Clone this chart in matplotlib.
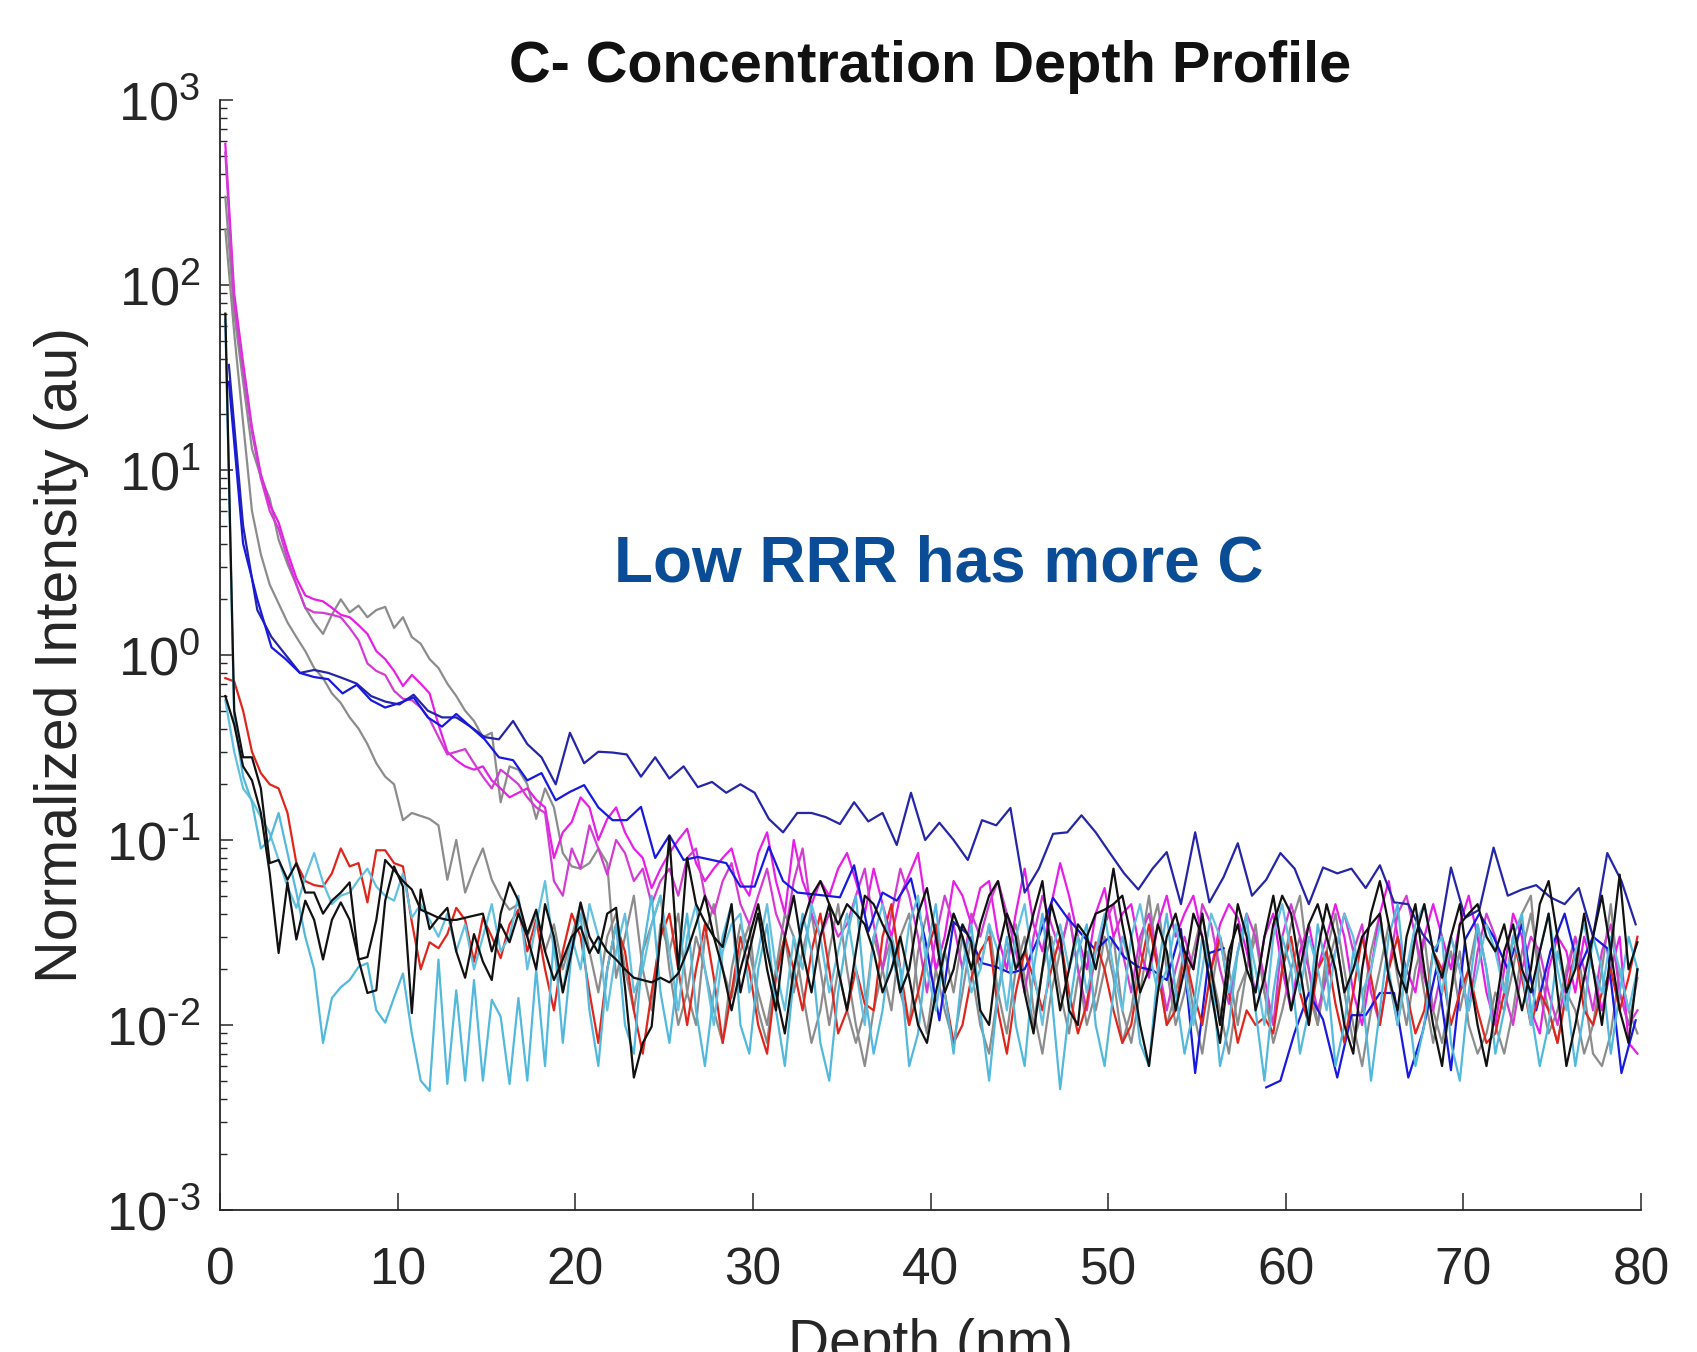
import numpy as np
import matplotlib

matplotlib.use("Agg")
import matplotlib.pyplot as plt
from matplotlib.ticker import FixedLocator, FuncFormatter, LogLocator, NullFormatter

plt.rcParams["font.family"] = ["Liberation Sans", "DejaVu Sans"]
plt.rcParams["mathtext.fontset"] = "custom"
plt.rcParams["mathtext.rm"] = "Liberation Sans"
plt.rcParams["mathtext.it"] = "Liberation Sans:italic"
plt.rcParams["mathtext.bf"] = "Liberation Sans:bold"
plt.rcParams["mathtext.default"] = "rm"
plt.rcParams["axes.unicode_minus"] = False

# fine series: first point at 0.3 nm, one point every 0.5 nm (10 values = 5 nm per row)
FINE_START, FINE_STEP = 0.3, 0.5
# coarse series (the two blue profiles): first point at 0.5 nm, every 0.8 nm
COARSE_START, COARSE_STEP = 0.5, 0.8

magenta_a = [
    580, 90, 38, 17, 9.5, 6.5, 5.2, 3.6, 2.6, 2.1,
    2.0, 1.95, 1.8, 1.65, 1.6, 1.45, 1.3, 1.05, 0.95, 0.82,
    0.68, 0.78, 0.7, 0.62, 0.42, 0.3, 0.27, 0.25, 0.24, 0.25,
    0.21, 0.19, 0.17, 0.18, 0.19, 0.165, 0.15, 0.08, 0.11, 0.125,
    0.17, 0.15, 0.1, 0.13, 0.15, 0.11, 0.09, 0.08, 0.055, 0.07,
    0.085, 0.1, 0.115, 0.075, 0.06, 0.07, 0.08, 0.09, 0.06, 0.05,
    0.085, 0.11, 0.06, 0.04, 0.1, 0.06, 0.045, 0.06, 0.05, 0.07,
    0.085, 0.06, 0.04, 0.07, 0.045, 0.03, 0.05, 0.065, 0.085, 0.04,
    0.02, 0.03, 0.06, 0.05, 0.035, 0.055, 0.06, 0.03, 0.02, 0.04,
    0.07, 0.035, 0.025, 0.045, 0.075, 0.05, 0.03, 0.02, 0.04, 0.055,
    0.03, 0.04, 0.045, 0.025, 0.018, 0.035, 0.05, 0.03, 0.04, 0.05,
    0.03, 0.02, 0.035, 0.045, 0.038, 0.025, 0.015, 0.03, 0.04, 0.02,
    0.012, 0.025, 0.035, 0.02, 0.03, 0.045, 0.03, 0.015, 0.01, 0.02,
    0.04, 0.06, 0.03, 0.02, 0.015, 0.03, 0.045, 0.03, 0.02, 0.035,
    0.05, 0.03, 0.015, 0.01, 0.02, 0.04, 0.03, 0.012, 0.009, 0.02,
    0.03, 0.025, 0.015, 0.03, 0.02, 0.012, 0.02, 0.03, 0.008, 0.007,
]
magenta_b = [
    520, 80, 35, 16, 9, 6, 4.8, 3.3, 2.4, 1.8,
    1.7, 1.69, 1.65, 1.6, 1.4, 1.2, 0.9, 0.82, 0.78, 0.64,
    0.58, 0.57, 0.52, 0.45, 0.36, 0.29, 0.3, 0.31, 0.26, 0.22,
    0.19, 0.24, 0.22, 0.2, 0.17, 0.15, 0.14, 0.06, 0.05, 0.09,
    0.07, 0.12, 0.09, 0.065, 0.1, 0.085, 0.06, 0.07, 0.045, 0.06,
    0.07, 0.05, 0.08, 0.09, 0.05, 0.04, 0.06, 0.075, 0.045, 0.035,
    0.05, 0.07, 0.04, 0.03, 0.06, 0.09, 0.04, 0.03, 0.04, 0.03,
    0.035, 0.05, 0.07, 0.035, 0.02, 0.04, 0.07, 0.05, 0.03, 0.015,
    0.03, 0.05, 0.035, 0.02, 0.04, 0.03, 0.045, 0.06, 0.04, 0.025,
    0.015, 0.03, 0.05, 0.035, 0.025, 0.04, 0.02, 0.012, 0.025, 0.035,
    0.045, 0.025, 0.015, 0.03, 0.04, 0.022, 0.012, 0.02, 0.03, 0.02,
    0.045, 0.035, 0.02, 0.013, 0.025, 0.04, 0.03, 0.018, 0.01, 0.03,
    0.045, 0.03, 0.02, 0.012, 0.018, 0.025, 0.04, 0.025, 0.035, 0.015,
    0.01, 0.02, 0.04, 0.05, 0.03, 0.018, 0.012, 0.02, 0.03, 0.02,
    0.012, 0.025, 0.04, 0.03, 0.015, 0.01, 0.02, 0.03, 0.025, 0.015,
    0.01, 0.018, 0.03, 0.02, 0.012, 0.025, 0.035, 0.015, 0.01, 0.012,
]
gray_a = [
    300, 70, 30, 13, 9.2, 7, 4.2, 3.1, 2.4, 1.8,
    1.5, 1.3, 1.65, 2.0, 1.7, 1.85, 1.6, 1.75, 1.82, 1.4,
    1.6, 1.25, 1.15, 0.95, 0.85, 0.7, 0.6, 0.5, 0.44, 0.36,
    0.38, 0.16, 0.25, 0.24, 0.2, 0.13, 0.19, 0.15, 0.085, 0.072,
    0.07, 0.075, 0.09, 0.075, 0.018, 0.03, 0.05, 0.02, 0.012, 0.035,
    0.025, 0.04, 0.015, 0.01, 0.03, 0.045, 0.02, 0.014, 0.025, 0.035,
    0.012, 0.008, 0.02, 0.03, 0.015, 0.025, 0.04, 0.02, 0.01, 0.02,
    0.012, 0.008, 0.012, 0.03, 0.02, 0.012, 0.03, 0.04, 0.015, 0.009,
    0.02, 0.025, 0.015, 0.03, 0.02, 0.01, 0.007, 0.015, 0.025, 0.035,
    0.018, 0.01, 0.02, 0.03, 0.015, 0.009, 0.018, 0.025, 0.012, 0.02,
    0.03, 0.012, 0.008, 0.015, 0.03, 0.045, 0.02, 0.01, 0.015, 0.025,
    0.04, 0.02, 0.012, 0.007, 0.015, 0.02, 0.03, 0.015, 0.01, 0.02,
    0.035, 0.05, 0.02, 0.01, 0.02, 0.03, 0.015, 0.008, 0.012, 0.025,
    0.04, 0.018, 0.01, 0.02, 0.03, 0.015, 0.008, 0.015, 0.025, 0.012,
    0.02, 0.035, 0.02, 0.01, 0.007, 0.012, 0.025, 0.04, 0.02, 0.012,
    0.008, 0.015, 0.012, 0.007, 0.01, 0.02, 0.045, 0.015, 0.01, 0.018,
]
gray_b = [
    200, 55, 18, 6, 3.5, 2.4, 1.9, 1.5, 1.25, 1.05,
    0.85, 0.75, 0.62, 0.55, 0.46, 0.4, 0.33, 0.26, 0.22, 0.2,
    0.128, 0.14, 0.135, 0.13, 0.12, 0.061, 0.1, 0.052, 0.07, 0.09,
    0.061, 0.049, 0.042, 0.045, 0.03, 0.04, 0.025, 0.035, 0.02, 0.03,
    0.045, 0.025, 0.015, 0.03, 0.04, 0.02, 0.012, 0.025, 0.035, 0.05,
    0.02, 0.01, 0.015, 0.03, 0.02, 0.012, 0.008, 0.02, 0.035, 0.025,
    0.015, 0.01, 0.02, 0.04, 0.03, 0.015, 0.008, 0.012, 0.025, 0.045,
    0.02, 0.01, 0.006, 0.012, 0.02, 0.03, 0.015, 0.01, 0.025, 0.04,
    0.02, 0.012, 0.008, 0.015, 0.03, 0.02, 0.035, 0.015, 0.009, 0.02,
    0.03, 0.012, 0.007, 0.015, 0.025, 0.04, 0.02, 0.01, 0.015, 0.03,
    0.018, 0.008, 0.012, 0.025, 0.05, 0.02, 0.01, 0.015, 0.025, 0.012,
    0.007, 0.015, 0.03, 0.02, 0.01, 0.02, 0.035, 0.015, 0.008, 0.012,
    0.02, 0.03, 0.015, 0.01, 0.025, 0.04, 0.02, 0.01, 0.006, 0.012,
    0.02, 0.035, 0.018, 0.01, 0.02, 0.03, 0.012, 0.008, 0.015, 0.025,
    0.01, 0.007, 0.009, 0.015, 0.012, 0.02, 0.04, 0.05, 0.015, 0.009,
    0.012, 0.02, 0.03, 0.015, 0.007, 0.006, 0.009, 0.02, 0.012, 0.009,
]
red_a = [
    0.75, 0.72, 0.5, 0.3, 0.23, 0.2, 0.19, 0.14, 0.075, 0.06,
    0.057, 0.056, 0.066, 0.09, 0.072, 0.075, 0.046, 0.088, 0.088, 0.075,
    0.072, 0.036, 0.02, 0.028, 0.026, 0.031, 0.043, 0.037, 0.022, 0.038,
    0.03, 0.023, 0.035, 0.042, 0.025, 0.037, 0.02, 0.012, 0.025, 0.04,
    0.03, 0.015, 0.008, 0.02, 0.035, 0.025, 0.012, 0.007, 0.015, 0.03,
    0.04, 0.02, 0.01, 0.02, 0.035, 0.018, 0.008, 0.015, 0.03, 0.02,
    0.01, 0.007, 0.018, 0.03, 0.02, 0.012, 0.025, 0.04, 0.02, 0.009,
    0.012, 0.02, 0.013, 0.012, 0.03, 0.045, 0.02, 0.01, 0.015, 0.025,
    0.035, 0.015, 0.008, 0.01, 0.018, 0.025, 0.03, 0.012, 0.007, 0.015,
    0.025, 0.018, 0.012, 0.02, 0.03, 0.015, 0.009, 0.013, 0.028, 0.02,
    0.012, 0.008, 0.01, 0.02, 0.035, 0.02, 0.01, 0.012, 0.025, 0.015,
    0.01, 0.02, 0.03, 0.015, 0.008, 0.012, 0.01, 0.011, 0.009, 0.02,
    0.03, 0.015, 0.01, 0.02, 0.025, 0.013, 0.008, 0.015, 0.03, 0.018,
    0.01, 0.02, 0.03, 0.015, 0.009, 0.012, 0.025, 0.02, 0.01, 0.015,
    0.02, 0.012, 0.008, 0.009, 0.015, 0.03, 0.018, 0.01, 0.015, 0.012,
    0.008, 0.015, 0.025, 0.012, 0.01, 0.015, 0.02, 0.012, 0.018, 0.03,
]
black_a = [
    70, 0.5, 0.28, 0.28, 0.19, 0.075, 0.078, 0.061, 0.075, 0.052,
    0.052, 0.04, 0.047, 0.052, 0.059, 0.0226, 0.0233, 0.037, 0.078, 0.069,
    0.06, 0.054, 0.042, 0.04, 0.038, 0.037, 0.037, 0.038, 0.039, 0.04,
    0.025, 0.035, 0.028, 0.04, 0.03, 0.02, 0.045, 0.03, 0.015, 0.025,
    0.046, 0.03, 0.0245, 0.04, 0.043, 0.016, 0.0052, 0.008, 0.0098, 0.03,
    0.105, 0.02, 0.08, 0.045, 0.036, 0.03, 0.0264, 0.045, 0.015, 0.025,
    0.04, 0.02, 0.012, 0.03, 0.05, 0.025, 0.015, 0.03, 0.045, 0.02,
    0.012, 0.025, 0.05, 0.045, 0.035, 0.028, 0.015, 0.02, 0.04, 0.055,
    0.03, 0.015, 0.02, 0.035, 0.028, 0.012, 0.01, 0.025, 0.04, 0.03,
    0.015, 0.009, 0.02, 0.045, 0.03, 0.012, 0.01, 0.03, 0.04, 0.042,
    0.045, 0.05, 0.03, 0.015, 0.02, 0.035, 0.025, 0.012, 0.02, 0.04,
    0.03, 0.015, 0.008, 0.02, 0.045, 0.03, 0.012, 0.018, 0.035, 0.05,
    0.04, 0.02, 0.01, 0.025, 0.045, 0.03, 0.015, 0.02, 0.03, 0.035,
    0.04, 0.018, 0.012, 0.03, 0.045, 0.02, 0.01, 0.006, 0.015, 0.035,
    0.04, 0.045, 0.03, 0.025, 0.035, 0.02, 0.012, 0.02, 0.045, 0.06,
    0.03, 0.015, 0.02, 0.04, 0.02, 0.01, 0.025, 0.065, 0.02, 0.028,
]
black_b = [
    0.6, 0.42, 0.25, 0.21, 0.14, 0.066, 0.0245, 0.059, 0.029, 0.047,
    0.037, 0.0226, 0.037, 0.046, 0.037, 0.0226, 0.0149, 0.0154, 0.047, 0.072,
    0.056, 0.0116, 0.054, 0.033, 0.038, 0.043, 0.025, 0.018, 0.031, 0.022,
    0.0175, 0.04, 0.059, 0.047, 0.031, 0.042, 0.025, 0.0175, 0.0226, 0.03,
    0.034, 0.0245, 0.03, 0.025, 0.0226, 0.02, 0.018, 0.0175, 0.017, 0.018,
    0.017, 0.019, 0.025, 0.035, 0.05, 0.03, 0.02, 0.012, 0.02, 0.03,
    0.045, 0.025, 0.015, 0.009, 0.02, 0.035, 0.05, 0.06, 0.045, 0.035,
    0.045, 0.04, 0.035, 0.025, 0.015, 0.02, 0.03, 0.018, 0.01, 0.008,
    0.015, 0.025, 0.04, 0.03, 0.02, 0.035, 0.05, 0.06, 0.035, 0.02,
    0.025, 0.04, 0.06, 0.025, 0.012, 0.02, 0.035, 0.03, 0.02, 0.035,
    0.07, 0.035, 0.02, 0.01, 0.006, 0.015, 0.03, 0.04, 0.025, 0.02,
    0.04, 0.02, 0.01, 0.025, 0.035, 0.02, 0.015, 0.03, 0.05, 0.025,
    0.012, 0.02, 0.035, 0.045, 0.03, 0.02, 0.01, 0.007, 0.02, 0.04,
    0.06, 0.035, 0.02, 0.015, 0.03, 0.045, 0.025, 0.018, 0.03, 0.045,
    0.02, 0.01, 0.006, 0.012, 0.025, 0.035, 0.02, 0.015, 0.025, 0.04,
    0.015, 0.006, 0.01, 0.018, 0.03, 0.05, 0.025, 0.012, 0.008, 0.02,
]
cyan_a = [
    65, 0.45, 0.22, 0.16, 0.09, 0.1, 0.14, 0.085, 0.052, 0.03,
    0.02, 0.008, 0.014, 0.016, 0.0175, 0.0206, 0.0216, 0.012, 0.0103, 0.0141,
    0.019, 0.009, 0.005, 0.0044, 0.0226, 0.0048, 0.0154, 0.005, 0.0175, 0.005,
    0.0137, 0.0111, 0.0048, 0.014, 0.005, 0.02, 0.006, 0.03, 0.008, 0.025,
    0.04, 0.012, 0.006, 0.02, 0.035, 0.01, 0.007, 0.025, 0.05, 0.015,
    0.008, 0.02, 0.04, 0.012, 0.006, 0.015, 0.03, 0.045, 0.01, 0.007,
    0.02, 0.035, 0.012, 0.006, 0.018, 0.04, 0.025, 0.008, 0.005, 0.015,
    0.03, 0.05, 0.015, 0.007, 0.012, 0.03, 0.02, 0.006, 0.009, 0.025,
    0.045, 0.015, 0.007, 0.02, 0.035, 0.012, 0.005, 0.015, 0.03, 0.01,
    0.006, 0.02, 0.04, 0.015, 0.0045, 0.012, 0.025, 0.035, 0.01, 0.006,
    0.015, 0.03, 0.02, 0.008, 0.006, 0.02, 0.04, 0.015, 0.007, 0.012,
    0.03, 0.02, 0.006, 0.01, 0.025, 0.04, 0.012, 0.005, 0.015, 0.03,
    0.02, 0.007, 0.012, 0.035, 0.02, 0.006, 0.01, 0.025, 0.015, 0.005,
    0.012, 0.03, 0.045, 0.015, 0.006, 0.01, 0.025, 0.03, 0.008, 0.005,
    0.015, 0.035, 0.02, 0.007, 0.012, 0.03, 0.04, 0.012, 0.006, 0.01,
    0.025, 0.015, 0.006, 0.012, 0.03, 0.02, 0.007, 0.015, 0.03, 0.02,
]
cyan_b = [
    0.57, 0.3, 0.19, 0.164, 0.133, 0.109, 0.078, 0.056, 0.043, 0.063,
    0.085, 0.059, 0.045, 0.05, 0.052, 0.061, 0.07, 0.056, 0.05, 0.047,
    0.066, 0.038, 0.045, 0.037, 0.03, 0.04, 0.025, 0.035, 0.02, 0.03,
    0.045, 0.025, 0.03, 0.05, 0.02, 0.035, 0.06, 0.025, 0.015, 0.03,
    0.02, 0.045, 0.03, 0.012, 0.025, 0.04, 0.015, 0.02, 0.035, 0.05,
    0.025, 0.012, 0.03, 0.045, 0.02, 0.01, 0.025, 0.035, 0.04, 0.015,
    0.025, 0.045, 0.02, 0.012, 0.03, 0.02, 0.045, 0.03, 0.015, 0.025,
    0.04, 0.02, 0.01, 0.03, 0.045, 0.025, 0.015, 0.035, 0.05, 0.02,
    0.012, 0.025, 0.04, 0.03, 0.015, 0.02, 0.035, 0.025, 0.012, 0.03,
    0.045, 0.02, 0.01, 0.025, 0.035, 0.02, 0.03, 0.015, 0.025, 0.04,
    0.02, 0.012, 0.03, 0.045, 0.025, 0.015, 0.02, 0.035, 0.02, 0.01,
    0.02, 0.04, 0.03, 0.015, 0.025, 0.035, 0.02, 0.01, 0.03, 0.045,
    0.025, 0.015, 0.03, 0.02, 0.012, 0.025, 0.04, 0.03, 0.015, 0.02,
    0.035, 0.02, 0.01, 0.02, 0.035, 0.045, 0.025, 0.015, 0.03, 0.02,
    0.012, 0.02, 0.035, 0.025, 0.015, 0.03, 0.02, 0.01, 0.025, 0.04,
    0.02, 0.012, 0.025, 0.035, 0.02, 0.015, 0.03, 0.02, 0.012, 0.02,
]
navy_a = [
    37, 5.0, 1.75, 1.25, 1.0, 0.8, 0.83, 0.8, 0.75, 0.7,
    0.6, 0.56, 0.54, 0.61, 0.5, 0.46, 0.46, 0.41, 0.36, 0.35,
    0.44, 0.33, 0.28, 0.2, 0.38, 0.26, 0.3, 0.297, 0.29, 0.22,
    0.28, 0.215, 0.25, 0.193, 0.206, 0.18, 0.2, 0.18, 0.13, 0.11,
    0.14, 0.14, 0.133, 0.122, 0.16, 0.126, 0.14, 0.094, 0.18, 0.1,
    0.124, 0.1, 0.078, 0.128, 0.12, 0.149, 0.052, 0.07, 0.108, 0.11,
    0.136, 0.11, 0.085, 0.066, 0.054, 0.07, 0.086, 0.045, 0.11, 0.046,
    0.063, 0.096, 0.05, 0.061, 0.085, 0.07, 0.045, 0.071, 0.066, 0.07,
    0.055, 0.073, 0.046, 0.045, 0.031, 0.025, 0.071, 0.038, 0.042, 0.091,
    0.05, 0.054, 0.057, 0.049, 0.045, 0.055, 0.03, 0.085, 0.06, 0.035,
]
blue_b = [
    30, 4.0, 2.0, 1.1, 0.95, 0.8, 0.76, 0.74, 0.62, 0.69,
    0.57, 0.52, 0.55, 0.59, 0.46, 0.41, 0.48, 0.41, 0.35, 0.28,
    0.27, 0.21, 0.23, 0.164, 0.182, 0.198, 0.15, 0.128, 0.128, 0.151,
    0.08, 0.106, 0.078, 0.081, 0.078, 0.075, 0.056, 0.056, 0.092, 0.06,
    0.052, 0.051, 0.05, 0.049, 0.073, 0.032, 0.052, 0.047, 0.062, 0.029,
    0.0106, 0.036, 0.031, 0.0216, 0.0206, 0.0191, 0.02, 0.03, 0.0486, 0.038,
    0.031, 0.0254, 0.03, 0.0233, 0.0206, 0.0198, 0.0175, 0.033, 0.0055, 0.0245,
    0.026, np.nan, np.nan, 0.0046, 0.005, 0.0091, 0.0149, 0.0107, 0.0052, 0.0113,
    0.0113, 0.0149, 0.0149, 0.0052, 0.0091, 0.0206, 0.0057, 0.029, 0.04, 0.03,
    0.02, 0.035, 0.012, 0.025, 0.04, 0.02, 0.03, 0.026, 0.0055, 0.0106,
]

# drawing order (last on top), colours per profile
SERIES = [
    (gray_a, "fine", "#8c8c8c"),
    (gray_b, "fine", "#8c8c8c"),
    (magenta_a, "fine", "#e61ee6"),
    (magenta_b, "fine", "#d23cd2"),
    (navy_a, "coarse", "#2525a8"),
    (blue_b, "coarse", "#1818e0"),
    (red_a, "fine", "#e0261c"),
    (cyan_b, "fine", "#62c0e0"),
    (cyan_a, "fine", "#52b8dc"),
    (black_a, "fine", "#111111"),
    (black_b, "fine", "#111111"),
]

X_TICKS = [0, 10, 20, 30, 40, 50, 60, 70, 80]
TITLE = "C- Concentration Depth Profile"
NOTE = "Low RRR has more C"


def decade_label(value, _pos):
    exp = int(round(np.log10(value)))
    if exp < 0:
        return r"$\mathdefault{10^{\text{-}%d}}$" % (-exp)
    return r"$\mathdefault{10^{%d}}$" % exp


W, H = 1697, 1352
fig = plt.figure(figsize=(W / 100, H / 100), dpi=100)
ax = fig.add_axes([220 / W, 1 - 1210 / H, (1641 - 220) / W, (1210 - 100) / H])

for values, grid, color in SERIES:
    vals = np.asarray(values, dtype=float)
    if grid == "fine":
        depth = FINE_START + FINE_STEP * np.arange(len(vals))
    else:
        depth = COARSE_START + COARSE_STEP * np.arange(len(vals))
    ax.plot(depth, vals, color=color, linewidth=1.6)

ax.set_yscale("log")
ax.set_xlim(0, 80)
ax.set_ylim(1e-3, 1e3)
ax.xaxis.set_major_locator(FixedLocator(X_TICKS))
ax.yaxis.set_major_locator(LogLocator(base=10, numticks=10))
ax.yaxis.set_major_formatter(FuncFormatter(decade_label))
ax.yaxis.set_minor_locator(LogLocator(base=10, subs=np.arange(2, 10), numticks=20))
ax.yaxis.set_minor_formatter(NullFormatter())

for side in ("top", "right"):
    ax.spines[side].set_visible(False)
for side in ("left", "bottom"):
    ax.spines[side].set_linewidth(1.3)
    ax.spines[side].set_color("#262626")

ax.tick_params(axis="x", which="major", direction="in", length=12, width=1.1,
               pad=26, labelsize=37, colors="#262626")
ax.tick_params(axis="y", which="major", direction="in", length=9, width=1.1,
               pad=14, labelsize=39, colors="#262626")
ax.tick_params(axis="y", which="minor", direction="in", length=5, width=1.0,
               colors="#262626")

ax.set_xlabel("Depth (nm)", fontsize=41, color="#262626")
ax.xaxis.set_label_coords(0.5, -0.097)
ax.set_ylabel("Normalized Intensity (au)", fontsize=42.5, color="#262626")
ax.yaxis.set_label_coords(-0.092, 0.5)

fig.text(930 / W, 1 - 82 / H, TITLE, ha="center", va="baseline",
         fontsize=41.5, fontweight="bold", color="#111111")
ax.text(0.506, (1210 - 581) / (1210 - 100), NOTE, transform=ax.transAxes,
        ha="center", va="baseline", fontsize=46, fontweight="bold", color="#0a4c96")

fig.savefig("out.png", dpi=100)
plt.close(fig)
